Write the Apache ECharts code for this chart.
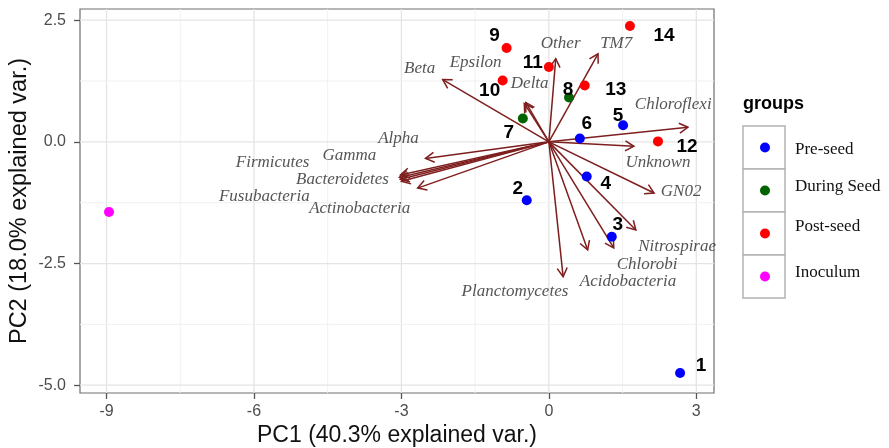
<!DOCTYPE html>
<html><head><meta charset="utf-8">
<script src="https://cdn.jsdelivr.net/npm/echarts@6/dist/echarts.min.js"></script>
<style>html,body{margin:0;padding:0;background:#fff}#c{width:889px;height:448px}</style>
</head><body><div id="c"></div>
<script>
// ---- data ----
const groups = ['Pre-seed', 'During Seed', 'Post-seed', 'Inoculum'];
const groupColors = ['#0000ff', '#006400', '#ff0000', '#ff00ff'];
const sampleIds   = ['1', '2', '3', '4', '5', '6', '7', '8', '9', '10', '11', '12', '13', '14', ''];
const sampleGroup = [0, 0, 0, 0, 0, 0, 1, 1, 2, 2, 2, 2, 2, 2, 3];
const samplePC1   = [2.67, -0.45, 1.28, 0.77, 1.51, 0.63, -0.53, 0.41, -0.86, -0.94, 0.00, 2.22, 0.73, 1.65, -8.95];
const samplePC2   = [-4.75, -1.20, -1.95, -0.71, 0.34, 0.07, 0.48, 0.91, 1.93, 1.26, 1.54, 0.01, 1.16, 2.38, -1.44];
// label offsets (px) for sample numbers
const idOffsetX = [21, -9, 6, 19, -5, 7, -14, -1, -12, -13, -16, 29, 31, 34, 0];
const idOffsetY = [-7, -12, -12, 7, -10, -15, 14, -8, -12, 10, -4, 5, 4, 10, 0];

const varNames = ['Beta', 'Epsilon', 'Delta', 'Other', 'TM7', 'Chloroflexi', 'Unknown', 'GN02',
  'Nitrospirae', 'Chlorobi', 'Acidobacteria', 'Planctomycetes', 'Alpha', 'Gamma', 'Firmicutes',
  'Bacteroidetes', 'Fusubacteria', 'Actinobacteria'];
const varPC1 = [-2.16, -0.50, -0.47, 0.14, 1.00, 2.83, 1.73, 2.14, 1.77, 1.32, 0.79, 0.29, -2.51, -3.02, -3.04, -3.02, -3.00, -2.67];
const varPC2 = [1.28, 0.79, 0.81, 1.71, 1.81, 0.30, -0.09, -1.05, -1.81, -2.18, -2.22, -2.77, -0.34, -0.68, -0.73, -0.77, -0.81, -0.95];
const varLabelPC1 = [-2.63, -1.49, -0.39, 0.24, 1.37, 2.53, 2.22, 2.69, 2.61, 2.00, 1.61, -0.69, -3.06, -4.06, -5.62, -4.20, -5.79, -3.85];
const varLabelPC2 = [1.50, 1.63, 1.20, 2.03, 2.03, 0.77, -0.42, -1.03, -2.16, -2.53, -2.87, -3.08, 0.07, -0.28, -0.42, -0.77, -1.13, -1.36];

const xTicks = [-9, -6, -3, 0, 3];
const yTicks = [2.5, 0, -2.5, -5];
const xMinor = [-7.5, -4.5, -1.5, 1.5];
const yMinor = [1.25, -1.25, -3.75];
const xRange = [-9.54, 3.36];
const yRange = [-5.16, 2.73];

// ---- chart ----
const chart = echarts.init(document.getElementById('c'), null, {renderer: 'canvas'});
const G = {left: 80, right: 175, top: 9, bottom: 55};

const gridData = [];
xTicks.forEach(v => gridData.push([v, 0, 1, 1]));
xMinor.forEach(v => gridData.push([v, 0, 1, 0]));
yTicks.forEach(v => gridData.push([0, v, 0, 1]));
yMinor.forEach(v => gridData.push([0, v, 0, 0]));

const series = [];
series.push({
  type: 'custom', silent: true, z: 1,
  data: gridData,
  renderItem(params, api) {
    const vert = api.value(2) === 1, major = api.value(3) === 1;
    let a, b;
    if (vert) { a = api.coord([api.value(0), yRange[0]]); b = api.coord([api.value(0), yRange[1]]); }
    else { a = api.coord([xRange[0], api.value(1)]); b = api.coord([xRange[1], api.value(1)]); }
    return {type: 'line', shape: {x1: a[0], y1: a[1], x2: b[0], y2: b[1]},
      style: {stroke: major ? '#e4e4e4' : '#f1f1f1', lineWidth: major ? 1.3 : 1}};
  }
});

groups.forEach((g, gi) => {
  const data = [];
  samplePC1.forEach((x, i) => {
    if (sampleGroup[i] === gi) data.push({value: [x, samplePC2[i], sampleIds[i]],
      label: {offset: [idOffsetX[i], idOffsetY[i]]}});
  });
  series.push({
    type: 'scatter', name: g, z: 5, symbolSize: 10,
    itemStyle: {color: groupColors[gi], opacity: 1},
    data,
    label: {show: true, position: 'inside', formatter: p => p.value[2],
      fontFamily: 'Liberation Sans, Arial', fontWeight: 'bold', fontSize: 19, color: '#000'}
  });
});

series.push({
  type: 'custom', silent: true, z: 3,
  data: varPC1.map((x, i) => [x, varPC2[i]]),
  renderItem(params, api) {
    const p0 = api.coord([0, 0]);
    const p1 = api.coord([api.value(0), api.value(1)]);
    const ang = Math.atan2(p1[1] - p0[1], p1[0] - p0[0]);
    const L = 10, a = Math.PI / 6;
    const h1 = [p1[0] - L * Math.cos(ang - a), p1[1] - L * Math.sin(ang - a)];
    const h2 = [p1[0] - L * Math.cos(ang + a), p1[1] - L * Math.sin(ang + a)];
    const stroke = '#7e1e1e';
    return {type: 'group', children: [
      {type: 'line', shape: {x1: p0[0], y1: p0[1], x2: p1[0], y2: p1[1]}, style: {stroke, lineWidth: 1.5}},
      {type: 'polyline', shape: {points: [h1, p1, h2]}, style: {stroke, lineWidth: 1.5, fill: null}}
    ]};
  }
});

series.push({
  type: 'scatter', silent: true, z: 4, symbolSize: 0,
  data: varLabelPC1.map((x, i) => [x, varLabelPC2[i], varNames[i]]),
  label: {show: true, position: 'inside', formatter: p => p.value[2],
    fontFamily: 'Liberation Serif, Times New Roman', fontStyle: 'italic', fontSize: 17, color: '#2b2b2b'}
});

// legend as graphic
const legendChildren = [{type: 'text', left: 743, top: 95,
  style: {text: 'groups', font: 'bold 18px "Liberation Sans", Arial', fill: '#000'}}];
const boxTop = 126, boxH = 43;
const textY = [150, 187, 227, 273];
groups.forEach((g, i) => {
  legendChildren.push({type: 'rect', shape: {x: 743, y: boxTop + i * boxH, width: 42, height: boxH},
    style: {fill: '#fff', stroke: '#b3b3b3', lineWidth: 1.5}});
  legendChildren.push({type: 'circle', shape: {cx: 765, cy: boxTop + i * boxH + boxH / 2, r: 5},
    style: {fill: groupColors[i]}});
  legendChildren.push({type: 'text', x: 795, y: textY[i],
    style: {text: g, font: '17px "Liberation Serif", "Times New Roman"', fill: '#111', textVerticalAlign: 'middle'}});
});

chart.setOption({
  animation: false,
  backgroundColor: '#fff',
  grid: {left: G.left, right: G.right, top: G.top, bottom: G.bottom, show: true,
    borderColor: '#6e6e6e', borderWidth: 1.2, backgroundColor: '#fff',
    containLabel: false, outerBoundsMode: 'none'},
  xAxis: {
    type: 'value', min: xRange[0], max: xRange[1],
    name: 'PC1 (40.3% explained var.)', nameLocation: 'middle', nameGap: 31, nameMoveOverlap: false,
    nameTextStyle: {fontFamily: 'Liberation Sans, Arial', fontSize: 23, color: '#111'},
    axisLine: {show: false, onZero: false},
    splitLine: {show: false},
    axisTick: {show: true, customValues: xTicks, length: 6, lineStyle: {color: '#555', width: 1.3}},
    axisLabel: {customValues: xTicks, formatter: v => String(Math.round(v)), margin: 11,
      fontFamily: 'Liberation Sans, Arial', fontSize: 16, color: '#4d4d4d'}
  },
  yAxis: {
    type: 'value', min: yRange[0], max: yRange[1],
    name: 'PC2 (18.0% explained var.)', nameLocation: 'middle', nameGap: 48, nameRotate: 90, nameMoveOverlap: false,
    nameTextStyle: {fontFamily: 'Liberation Sans, Arial', fontSize: 23.5, color: '#111'},
    axisLine: {show: false, onZero: false},
    splitLine: {show: false},
    axisTick: {show: true, customValues: yTicks, length: 6, lineStyle: {color: '#555', width: 1.3}},
    axisLabel: {customValues: yTicks, formatter: v => v.toFixed(1), margin: 14,
      fontFamily: 'Liberation Sans, Arial', fontSize: 16, color: '#4d4d4d'}
  },
  series,
  graphic: legendChildren
});
</script>
</body></html>
